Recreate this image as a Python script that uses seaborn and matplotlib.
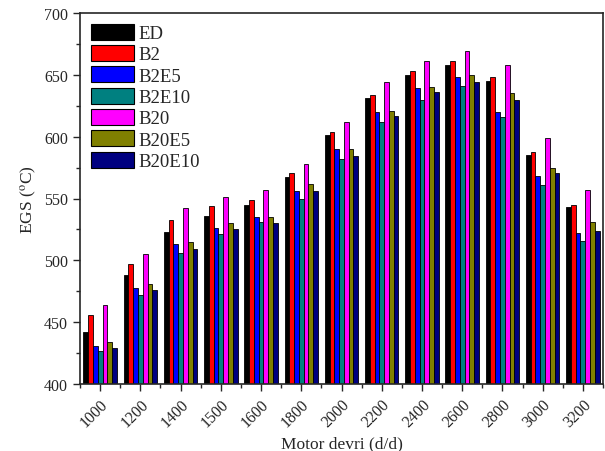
import seaborn as sns
import pandas as pd
from matplotlib import pyplot as plt
from matplotlib.ticker import MultipleLocator, FixedLocator

# Engine speed (rpm) categories
rpm = ["1000", "1200", "1400", "1500", "1600", "1800", "2000",
       "2200", "2400", "2600", "2800", "3000", "3200"]

# Exhaust gas temperature per fuel
ed = [442, 488, 523, 536, 545, 567, 601, 631, 650, 658, 645, 585, 543]
b2 = [456, 497, 533, 544, 549, 571, 604, 634, 653, 661, 648, 588, 545]
b2e5 = [431, 478, 513, 526, 535, 556, 590, 620, 639, 648, 620, 568, 522]
b2e10 = [427, 472, 506, 521, 531, 550, 582, 612, 630, 641, 616, 561, 516]
b20 = [464, 505, 542, 551, 557, 578, 612, 644, 661, 669, 658, 599, 557]
b20e5 = [434, 481, 515, 530, 535, 562, 590, 621, 640, 650, 635, 575, 531]
b20e10 = [429, 476, 509, 525, 530, 556, 584, 617, 636, 644, 630, 571, 524]

fuels = ["ED", "B2", "B2E5", "B2E10", "B20", "B20E5", "B20E10"]
colors = ["#000000", "#FF0000", "#0000FF", "#008080", "#FF00FF", "#808000", "#000080"]

series = [ed, b2, b2e5, b2e10, b20, b20e5, b20e10]
df = pd.DataFrame({
    "rpm": rpm * len(fuels),
    "fuel": [f for f in fuels for _ in rpm],
    "egs": [v for s in series for v in s],
})

sns.set_style("ticks")
plt.rcParams["font.family"] = ["Liberation Serif", "DejaVu Serif"]
plt.rcParams["mathtext.fontset"] = "stix"

fig = plt.figure(figsize=(6.05, 4.52), dpi=100)
ax = fig.add_axes([80 / 605, 1 - 385 / 452, 523 / 605, 371 / 452])

sns.barplot(data=df, x="rpm", y="egs", hue="fuel", hue_order=fuels,
            palette=colors, width=0.83, edgecolor="black", linewidth=0.6,
            saturation=1, ax=ax)

ax.set_ylim(400, 700)
ax.set_xlim(-0.5, len(rpm) - 0.5)
ax.yaxis.set_major_locator(MultipleLocator(50))
ax.yaxis.set_minor_locator(MultipleLocator(25))
ax.xaxis.set_minor_locator(FixedLocator([i + 0.5 for i in range(-1, len(rpm))]))
ax.tick_params(axis="both", which="major", direction="out", length=5,
               width=1, labelsize=11.5)
ax.tick_params(axis="both", which="minor", direction="out", length=3, width=1)
plt.setp(ax.get_xticklabels(), rotation=45, ha="right", rotation_mode="anchor")

for sp in ax.spines.values():
    sp.set_visible(True)
    sp.set_linewidth(1.2)

ax.set_xlabel("Motor devri (d/d)", fontsize=12.5)
ax.set_ylabel(r"EGS ($^{\mathrm{o}}$C)", fontsize=12.5)

leg = ax.legend(loc="upper left", frameon=False, fontsize=13.5,
                handlelength=2.3, handleheight=0.95, labelspacing=0.15,
                handletextpad=0.25, borderaxespad=0.4,
                bbox_to_anchor=(-0.008, 1.012))
for h in leg.legend_handles:
    h.set_edgecolor("black")
    h.set_linewidth(0.8)

fig.savefig("out.png", dpi=100)
